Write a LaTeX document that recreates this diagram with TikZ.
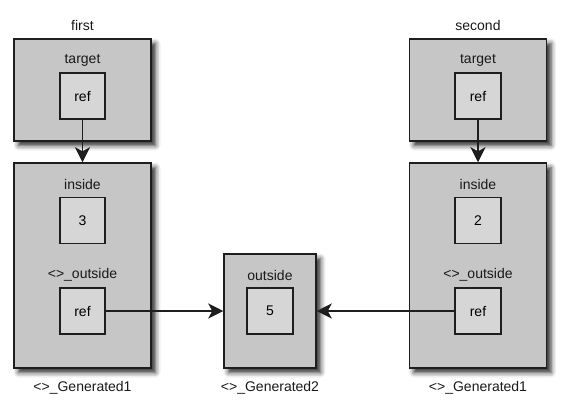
\documentclass[tikz,border=0pt]{standalone}
\usepackage{fontspec}
\setmainfont{Liberation Sans}
\usetikzlibrary{arrows.meta,shadows.blur}
\definecolor{outerfill}{HTML}{C6C6C6}
\definecolor{innerfill}{HTML}{D6D6D6}
\definecolor{edge}{HTML}{1E1E1E}
\begin{document}
\begin{tikzpicture}[x=1pt,y=-1pt,
  outerbox/.style={draw=edge,line width=1.5pt,fill=outerfill,inner sep=0pt,
    blur shadow={shadow xshift=4.5pt,shadow yshift=-4.5pt,shadow blur radius=5pt,shadow opacity=85}},
  innerbox/.style={draw=edge,line width=1.5pt,fill=innerfill,inner sep=0pt,
    minimum width=45pt,minimum height=46pt,font=\fontsize{14}{16}\selectfont},
  lbl/.style={inner sep=0pt,font=\fontsize{14}{16}\selectfont,text=black!90},
  conn/.style={draw=edge,line width=1.4pt,-{Stealth[length=15pt,width=15pt,inset=4pt]}}
]
\useasboundingbox (0,0) rectangle (568,400);
% left top
\node[outerbox,minimum width=137pt,minimum height=102pt] (t1) at (82.5,90) {};
\node[lbl] (t1name) at (82.5,25) {first};
\node[lbl] (t1lab) at (82.5,60) {target};
\node[innerbox] (r1) at (82.5,96) {ref};
% left bottom
\node[outerbox,minimum width=137pt,minimum height=205pt] (g1) at (82.5,265.5) {};
\node[lbl] (g1in) at (82.5,184) {inside};
\node[innerbox] (v1) at (82.5,220.5) {3};
\node[lbl] (g1out) at (82.5,275) {<>\_outside};
\node[innerbox] (o1) at (82.5,311) {ref};
\node[lbl] (g1name) at (82.5,388) {<>\_Generated1};
% middle
\node[outerbox,minimum width=92pt,minimum height=114pt] (m) at (270,311) {};
\node[lbl] (mlab) at (270,275) {outside};
\node[innerbox,minimum width=46pt] (v5) at (270,311) {5};
\node[lbl] (mname) at (270,388) {<>\_Generated2};
% right top
\node[outerbox,minimum width=137pt,minimum height=102pt] (t2) at (478,90) {};
\node[lbl] (t2name) at (478,25) {second};
\node[lbl] (t2lab) at (478,60) {target};
\node[innerbox,minimum width=46pt] (r2) at (478,96) {ref};
% right bottom
\node[outerbox,minimum width=137pt,minimum height=205pt] (g2) at (478,265.5) {};
\node[lbl] (g2in) at (478,184) {inside};
\node[innerbox,minimum width=46pt] (v2) at (478,220.5) {2};
\node[lbl] (g2out) at (478,275) {<>\_outside};
\node[innerbox,minimum width=46pt] (o2) at (478,311) {ref};
\node[lbl] (g2name) at (478,388) {<>\_Generated1};
% connectors
\draw[conn] (r1.south) -- (g1.north);
\draw[conn] (r2.south) -- (g2.north);
\draw[conn] (o1.east) -- (m.west);
\draw[conn] (o2.west) -- (m.east);
\end{tikzpicture}
\end{document}
